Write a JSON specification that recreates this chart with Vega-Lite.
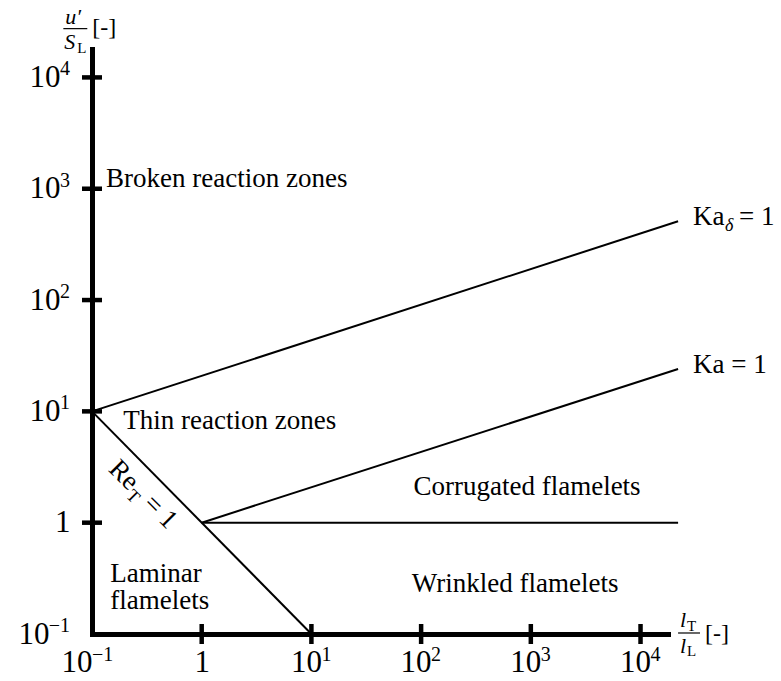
{
  "$schema": "https://vega.github.io/schema/vega-lite/v6.json",
  "width": 576,
  "height": 585,
  "autosize": {"type": "none"},
  "padding": {"left": 92, "top": 49, "right": 113, "bottom": 47},
  "background": "white",
  "config": {
    "view": {"stroke": null},
    "font": "Liberation Serif"
  },
  "datasets": {
    "boundaries": [
      {"name": "Ka_delta = 1", "x": 0.1, "y": 10, "x2": 22000, "y2": 510},
      {"name": "Ka = 1", "x": 1, "y": 1, "x2": 22000, "y2": 24},
      {"name": "Re_T = 1", "x": 0.1, "y": 10, "x2": 10, "y2": 0.1},
      {"name": "u'/S_L = 1", "x": 1, "y": 1, "x2": 22000, "y2": 1}
    ],
    "xTicks": [
      {"x": 1, "y": 0.1},
      {"x": 10, "y": 0.1},
      {"x": 100, "y": 0.1},
      {"x": 1000, "y": 0.1},
      {"x": 10000, "y": 0.1}
    ],
    "yTicks": [
      {"x": 0.1, "y": 1},
      {"x": 0.1, "y": 10},
      {"x": 0.1, "y": 100},
      {"x": 0.1, "y": 1000},
      {"x": 0.1, "y": 10000}
    ],
    "xExponents": [
      {"x": 10, "y": 0.1, "e": "1"},
      {"x": 100, "y": 0.1, "e": "2"},
      {"x": 1000, "y": 0.1, "e": "3"},
      {"x": 10000, "y": 0.1, "e": "4"}
    ],
    "xNegExponents": [{"x": 0.1, "y": 0.1, "e": "−1"}],
    "yExponents": [
      {"x": 0.1, "y": 0.1, "e": "−1"},
      {"x": 0.1, "y": 10, "e": "1"},
      {"x": 0.1, "y": 100, "e": "2"},
      {"x": 0.1, "y": 1000, "e": "3"},
      {"x": 0.1, "y": 10000, "e": "4"}
    ],
    "regions": [
      {"label": "Broken reaction zones", "x": 0.1341, "y": 1042},
      {"label": "Thin reaction zones", "x": 0.1929, "y": 6.963},
      {"label": "Corrugated flamelets", "x": 85.16, "y": 1.776},
      {"label": "Wrinkled flamelets", "x": 82.35, "y": 0.24},
      {"label": "Laminar", "x": 0.1468, "y": 0.2934},
      {"label": "flamelets", "x": 0.1468, "y": 0.1678},
      {"label": "Ka = 1", "x": 30120, "y": 22.19}
    ],
    "kaDelta": [{"x": 30120, "y": 474.7, "base": "Ka", "sub": "δ", "rest": "= 1"}],
    "reT": [{"x": 0.4036, "y": 2.478, "base": "Re", "sub": "T", "rest": "= 1"}],
    "mathItalic": [
      {"t": "u′", "x": 0.05711, "y": 30500},
      {"t": "S", "x": 0.05593, "y": 18100},
      {"t": "l", "x": 22930, "y": 0.1145},
      {"t": "l", "x": 22930, "y": 0.0680}
    ],
    "mathSub": [
      {"t": "L", "x": 0.07347, "y": 16700},
      {"t": "T", "x": 26570, "y": 0.1075},
      {"t": "L", "x": 26570, "y": 0.0640}
    ],
    "units": [
      {"t": "[-]", "x": 0.1006, "y": 24230},
      {"t": "[-]", "x": 38750, "y": 0.08653}
    ],
    "fractionBars": [
      {"x": 0.0548, "x2": 0.0906, "y": 27430},
      {"x": 21990, "x2": 34880, "y": 0.1021}
    ]
  },
  "encoding": {
    "x": {
      "field": "x",
      "type": "quantitative",
      "scale": {"type": "log", "domain": [0.1, 17800], "nice": false},
      "axis": {
        "title": null,
        "grid": false,
        "ticks": false,
        "tickSize": 0,
        "domain": true,
        "domainColor": "black",
        "domainWidth": 5,
        "domainCap": "square",
        "values": [0.1, 1, 10, 100, 1000, 10000],
        "labelExpr": "datum.value > 0.5 && datum.value < 5 ? '1' : '10'",
        "labelAlign": {"condition": {"test": "datum.value > 0.5 && datum.value < 5", "value": "center"}, "value": "right"},
        "labelOffset": {"condition": {"test": "datum.value > 5", "value": 10}, "value": 0},
        "labelFont": "Liberation Serif",
        "labelFontSize": 31,
        "labelColor": "black",
        "labelPadding": 13,
        "labelFlush": false,
        "labelOverlap": false
      }
    },
    "y": {
      "field": "y",
      "type": "quantitative",
      "scale": {"type": "log", "domain": [0.1, 18000], "nice": false},
      "axis": {
        "title": null,
        "grid": false,
        "ticks": false,
        "tickSize": 0,
        "domain": true,
        "domainColor": "black",
        "domainWidth": 5,
        "domainCap": "square",
        "values": [0.1, 1, 10, 100, 1000, 10000],
        "labelExpr": "datum.value > 0.5 && datum.value < 5 ? '1' : '10'",
        "labelPadding": {
          "condition": [
            {"test": "datum.value < 0.5", "value": 43},
            {"test": "datum.value > 5", "value": 32}
          ],
          "value": 22
        },
        "labelFont": "Liberation Serif",
        "labelFontSize": 31,
        "labelColor": "black",
        "labelFlush": false,
        "labelOverlap": false
      }
    }
  },
  "layer": [
    {
      "data": {"name": "boundaries"},
      "mark": {"type": "rule", "color": "black", "strokeWidth": 2},
      "encoding": {
        "x2": {"field": "x2"},
        "y2": {"field": "y2"}
      }
    },
    {
      "data": {"name": "xTicks"},
      "mark": {"type": "rule", "color": "black", "strokeWidth": 4.5, "yOffset": -10, "y2Offset": 10},
      "encoding": {"y2": {"field": "y"}}
    },
    {
      "data": {"name": "yTicks"},
      "mark": {"type": "rule", "color": "black", "strokeWidth": 4.5, "xOffset": -10, "x2Offset": 10},
      "encoding": {"x2": {"field": "x"}}
    },
    {
      "data": {"name": "xExponents"},
      "mark": {"type": "text", "align": "left", "baseline": "alphabetic", "fontSize": 20, "font": "Liberation Serif", "color": "black", "dx": 10, "dy": 27},
      "encoding": {"text": {"field": "e"}}
    },
    {
      "data": {"name": "xNegExponents"},
      "mark": {"type": "text", "align": "left", "baseline": "alphabetic", "fontSize": 20, "font": "Liberation Serif", "color": "black", "dx": 0, "dy": 27},
      "encoding": {"text": {"field": "e"}}
    },
    {
      "data": {"name": "yExponents"},
      "mark": {"type": "text", "align": "right", "baseline": "alphabetic", "fontSize": 20, "font": "Liberation Serif", "color": "black", "dx": -22, "dy": -2},
      "encoding": {"text": {"field": "e"}}
    },
    {
      "data": {"name": "regions"},
      "mark": {"type": "text", "align": "left", "baseline": "alphabetic", "fontSize": 27, "font": "Liberation Serif", "color": "black"},
      "encoding": {"text": {"field": "label"}}
    },
    {
      "data": {"name": "kaDelta"},
      "mark": {"type": "text", "align": "left", "baseline": "alphabetic", "fontSize": 27, "font": "Liberation Serif", "color": "black"},
      "encoding": {"text": {"field": "base"}}
    },
    {
      "data": {"name": "kaDelta"},
      "mark": {"type": "text", "align": "left", "baseline": "alphabetic", "fontSize": 18, "fontStyle": "italic", "font": "Liberation Serif", "color": "black", "dx": 32, "dy": 6},
      "encoding": {"text": {"field": "sub"}}
    },
    {
      "data": {"name": "kaDelta"},
      "mark": {"type": "text", "align": "left", "baseline": "alphabetic", "fontSize": 27, "font": "Liberation Serif", "color": "black", "dx": 46},
      "encoding": {"text": {"field": "rest"}}
    },
    {
      "data": {"name": "reT"},
      "mark": {"type": "text", "align": "left", "baseline": "alphabetic", "angle": 45, "fontSize": 27, "font": "Liberation Serif", "color": "black", "dx": -42, "dy": 30},
      "encoding": {"text": {"field": "base"}}
    },
    {
      "data": {"name": "reT"},
      "mark": {"type": "text", "align": "left", "baseline": "alphabetic", "angle": 45, "fontSize": 18, "font": "Liberation Serif", "color": "black", "dx": -11, "dy": 36},
      "encoding": {"text": {"field": "sub"}}
    },
    {
      "data": {"name": "reT"},
      "mark": {"type": "text", "align": "left", "baseline": "alphabetic", "angle": 45, "fontSize": 27, "font": "Liberation Serif", "color": "black", "dx": 7, "dy": 30},
      "encoding": {"text": {"field": "rest"}}
    },
    {
      "data": {"name": "mathItalic"},
      "mark": {"type": "text", "align": "left", "baseline": "alphabetic", "fontSize": 22, "fontStyle": "italic", "font": "Liberation Serif", "color": "black"},
      "encoding": {"text": {"field": "t"}}
    },
    {
      "data": {"name": "mathSub"},
      "mark": {"type": "text", "align": "left", "baseline": "alphabetic", "fontSize": 15, "font": "Liberation Serif", "color": "black"},
      "encoding": {"text": {"field": "t"}}
    },
    {
      "data": {"name": "units"},
      "mark": {"type": "text", "align": "left", "baseline": "alphabetic", "fontSize": 24, "font": "Liberation Serif", "color": "black"},
      "encoding": {"text": {"field": "t"}}
    },
    {
      "data": {"name": "fractionBars"},
      "mark": {"type": "rule", "color": "black", "strokeWidth": 1.2},
      "encoding": {"x2": {"field": "x2"}}
    }
  ]
}
